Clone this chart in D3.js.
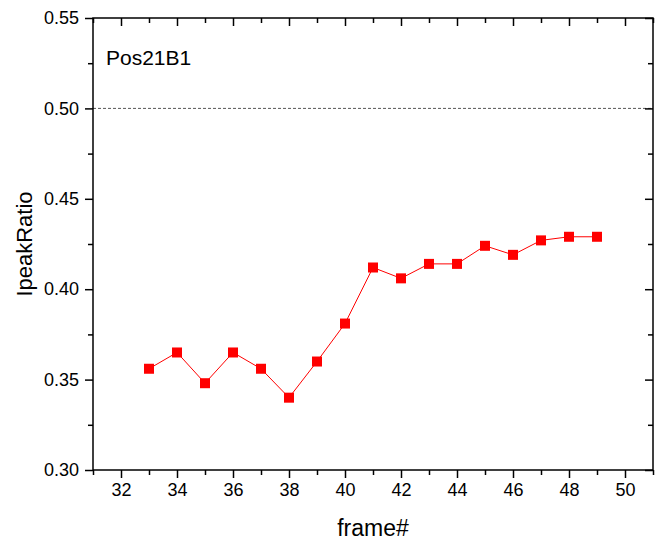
<!DOCTYPE html>
<html><head><meta charset="utf-8">
<script src="https://cdn.jsdelivr.net/npm/d3@7/dist/d3.min.js"></script>
<style>body{margin:0;background:#fff;}svg{display:block;font-family:"Liberation Sans",Arial,sans-serif;}</style>
</head><body>
<svg id="c" width="658" height="540"></svg>
<script>
const frames = [33,34,35,36,37,38,39,40,41,42,43,44,45,46,47,48,49];
const ratios = [0.356,0.365,0.348,0.365,0.356,0.340,0.360,0.381,0.412,0.406,0.414,0.414,0.424,0.419,0.427,0.429,0.429];
const xTicks = [32,34,36,38,40,42,44,46,48,50];
const xMinor = [31,33,35,37,39,41,43,45,47,49,51];
const yTicks = [0.30,0.35,0.40,0.45,0.50,0.55];
const yMinor = [0.325,0.375,0.425,0.475,0.525];
const refLine = 0.50;
const label = "Pos21B1";

const L=93,R=653,T=18,B=470;
const svg=d3.select("#c");
const x=d3.scaleLinear().domain([31,51]).range([L,R]);
const y=d3.scaleLinear().domain([0.30,0.55]).range([B,T]);

svg.append("line").attr("x1",L).attr("x2",R).attr("y1",y(refLine)).attr("y2",y(refLine))
  .attr("stroke","#555").attr("stroke-width",1).attr("stroke-dasharray","3,2");

function styleAxis(g){g.select(".domain").remove();g.selectAll("line").attr("stroke","#000").attr("stroke-width",1.5);}
svg.append("g").attr("transform",`translate(0,${B})`).call(d3.axisBottom(x).tickValues(xTicks).tickSize(8).tickPadding(5).tickFormat(d3.format("d")))
  .call(styleAxis).call(g=>g.selectAll("text").attr("font-size",18).attr("fill","#000").attr("font-family","Liberation Sans, Arial"));
svg.append("g").attr("transform",`translate(0,${B})`).call(d3.axisBottom(x).tickValues(xMinor).tickSize(5).tickFormat("")).call(styleAxis);
svg.append("g").attr("transform",`translate(0,${T})`).call(d3.axisBottom(x).tickValues(xTicks).tickSize(8).tickFormat("")).call(styleAxis);
svg.append("g").attr("transform",`translate(0,${T})`).call(d3.axisBottom(x).tickValues(xMinor).tickSize(5).tickFormat("")).call(styleAxis);
svg.append("g").attr("transform",`translate(${L},0)`).call(d3.axisLeft(y).tickValues(yTicks).tickSize(8).tickPadding(6).tickFormat(d3.format(".2f")))
  .call(styleAxis).call(g=>g.selectAll("text").attr("font-size",18).attr("fill","#000").attr("font-family","Liberation Sans, Arial"));
svg.append("g").attr("transform",`translate(${L},0)`).call(d3.axisLeft(y).tickValues(yMinor).tickSize(5).tickFormat("")).call(styleAxis);
svg.append("g").attr("transform",`translate(${R},0)`).call(d3.axisLeft(y).tickValues(yTicks).tickSize(8).tickFormat("")).call(styleAxis);
svg.append("g").attr("transform",`translate(${R},0)`).call(d3.axisLeft(y).tickValues(yMinor).tickSize(5).tickFormat("")).call(styleAxis);

svg.append("rect").attr("x",L).attr("y",T).attr("width",R-L).attr("height",B-T).attr("fill","none").attr("stroke","#000").attr("stroke-width",1.5);

svg.append("path").datum(frames.map((f,i)=>[f,ratios[i]]))
  .attr("d",d3.line().x(d=>x(d[0])).y(d=>y(d[1])))
  .attr("fill","none").attr("stroke","#ff0000").attr("stroke-width",1);
const s=10;
svg.selectAll("rect.m").data(frames.map((f,i)=>[f,ratios[i]])).enter().append("rect").attr("class","m")
  .attr("x",d=>x(d[0])-s/2).attr("y",d=>y(d[1])-s/2).attr("width",s).attr("height",s).attr("fill","#ff0000");

svg.append("text").attr("x",106).attr("y",65).attr("font-size",21).text(label);
svg.append("text").attr("x",(L+R)/2).attr("y",536).attr("text-anchor","middle").attr("font-size",23).text("frame#");
svg.append("text").attr("transform",`translate(32,${(T+B)/2}) rotate(-90)`).attr("text-anchor","middle").attr("font-size",22).text("IpeakRatio");
</script>
</body></html>
